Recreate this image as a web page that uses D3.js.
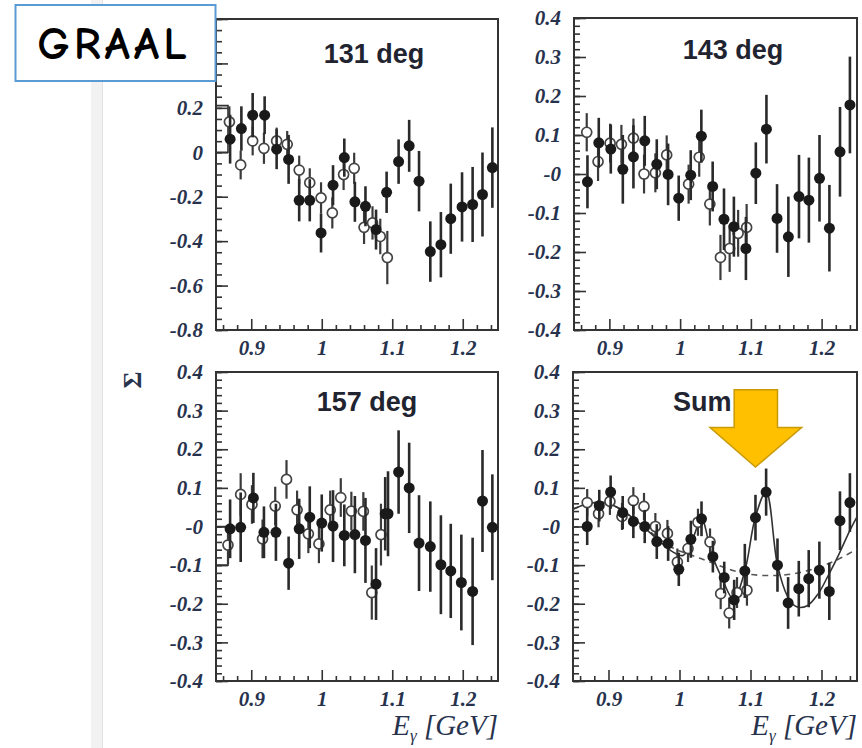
<!DOCTYPE html>
<html>
<head>
<meta charset="utf-8">
<script src="https://cdn.jsdelivr.net/npm/d3@7"></script>
<style>
html, body { margin: 0; padding: 0; background: #fff; }
svg { display: block; }
</style>
</head>
<body>
<svg width="862" height="748"></svg>
<script>
// data: [E_gamma (GeV), Sigma, error]
var filled131 = [
  [0.870, 0.059, 0.11], [0.886, 0.107, 0.10], [0.902, 0.167, 0.10], [0.919, 0.167, 0.085],
  [0.936, 0.014, 0.09], [0.953, -0.032, 0.11], [0.968, -0.216, 0.095], [0.983, -0.216, 0.095],
  [0.999, -0.363, 0.088], [1.016, -0.148, 0.09], [1.032, -0.024, 0.086], [1.047, -0.223, 0.09],
  [1.062, -0.243, 0.09], [1.077, -0.348, 0.09], [1.092, -0.180, 0.093], [1.109, -0.042, 0.10],
  [1.124, 0.029, 0.117], [1.138, -0.130, 0.136], [1.154, -0.447, 0.136], [1.169, -0.416, 0.147],
  [1.183, -0.299, 0.158], [1.199, -0.246, 0.156], [1.214, -0.235, 0.169], [1.228, -0.190, 0.189],
  [1.242, -0.069, 0.181]
];
var open131 = [
  [0.869, 0.137, 0.07], [0.885, -0.057, 0.065], [0.902, 0.051, 0.065], [0.918, 0.018, 0.07],
  [0.936, 0.051, 0.06], [0.951, 0.036, 0.06], [0.968, -0.080, 0.065], [0.983, -0.137, 0.065],
  [0.999, -0.205, 0.07], [1.015, -0.273, 0.07], [1.031, -0.100, 0.07], [1.046, -0.072, 0.07],
  [1.060, -0.338, 0.075], [1.072, -0.318, 0.075], [1.083, -0.379, 0.08], [1.093, -0.474, 0.12]
];
var filled143 = [
  [0.869, -0.020, 0.068], [0.885, 0.080, 0.064], [0.902, 0.064, 0.063], [0.919, 0.012, 0.088],
  [0.934, 0.044, 0.081], [0.950, 0.085, 0.064], [0.967, 0.025, 0.064], [0.983, -0.001, 0.079],
  [0.998, -0.062, 0.058], [1.015, -0.003, 0.064], [1.030, 0.097, 0.068], [1.046, -0.032, 0.064],
  [1.062, -0.116, 0.079], [1.076, -0.135, 0.077], [1.093, -0.191, 0.081], [1.107, 0.002, 0.079],
  [1.122, 0.115, 0.088], [1.137, -0.114, 0.088], [1.153, -0.161, 0.103], [1.168, -0.058, 0.107],
  [1.182, -0.067, 0.109], [1.197, -0.011, 0.111], [1.211, -0.139, 0.111], [1.226, 0.057, 0.115],
  [1.240, 0.177, 0.124]
];
var open143 = [
  [0.868, 0.107, 0.049], [0.884, 0.032, 0.05], [0.901, 0.079, 0.05], [0.917, 0.076, 0.05],
  [0.934, 0.092, 0.05], [0.949, 0.000, 0.05], [0.965, 0.003, 0.05], [0.981, 0.049, 0.05],
  [1.012, -0.026, 0.05], [1.027, 0.043, 0.05], [1.042, -0.077, 0.055], [1.057, -0.214, 0.058],
  [1.070, -0.191, 0.06], [1.082, -0.152, 0.06], [1.094, -0.137, 0.06]
];
var filled157 = [
  [0.870, -0.006, 0.076], [0.885, -0.002, 0.09], [0.903, 0.074, 0.065], [0.918, -0.015, 0.067],
  [0.935, -0.015, 0.074], [0.953, -0.095, 0.069], [0.968, -0.006, 0.078], [0.983, 0.024, 0.08],
  [1.000, 0.009, 0.074], [1.016, 0.001, 0.093], [1.032, -0.023, 0.08], [1.047, -0.021, 0.10],
  [1.062, -0.036, 0.11], [1.077, -0.149, 0.093], [1.090, 0.033, 0.095], [1.094, 0.033, 0.11],
  [1.109, 0.141, 0.108], [1.124, 0.100, 0.117], [1.138, -0.043, 0.124], [1.154, -0.052, 0.117],
  [1.169, -0.099, 0.128], [1.183, -0.115, 0.122], [1.198, -0.145, 0.124], [1.214, -0.168, 0.139],
  [1.228, 0.066, 0.132], [1.242, -0.002, 0.137]
];
var open157 = [
  [0.867, -0.048, 0.05], [0.885, 0.083, 0.055], [0.901, 0.057, 0.05], [0.916, -0.032, 0.05],
  [0.934, 0.053, 0.05], [0.950, 0.122, 0.05], [0.965, 0.043, 0.05], [0.981, -0.019, 0.05],
  [0.996, -0.045, 0.05], [1.012, 0.043, 0.05], [1.027, 0.075, 0.05], [1.042, 0.040, 0.05],
  [1.059, 0.039, 0.05], [1.071, -0.171, 0.07], [1.084, -0.021, 0.08]
];
var filledSum = [
  [0.870, 0.000, 0.048], [0.887, 0.054, 0.041], [0.903, 0.089, 0.043], [0.920, 0.036, 0.043],
  [0.935, 0.013, 0.043], [0.951, 0.000, 0.043], [0.968, -0.039, 0.045], [0.984, -0.044, 0.045],
  [0.999, -0.111, 0.043], [1.016, -0.033, 0.048], [1.031, 0.020, 0.045], [1.047, -0.078, 0.041],
  [1.063, -0.132, 0.041], [1.077, -0.190, 0.052], [1.092, -0.115, 0.07], [1.107, 0.023, 0.059],
  [1.122, 0.089, 0.061], [1.138, -0.100, 0.069], [1.153, -0.198, 0.067], [1.168, -0.161, 0.072],
  [1.182, -0.135, 0.074], [1.197, -0.113, 0.074], [1.211, -0.168, 0.074], [1.226, 0.015, 0.076],
  [1.240, 0.062, 0.076]
];
var openSum = [
  [0.870, 0.062, 0.035], [0.886, 0.033, 0.035], [0.902, 0.065, 0.035], [0.919, 0.026, 0.035],
  [0.935, 0.067, 0.035], [0.950, 0.052, 0.035], [0.966, 0.000, 0.035], [0.983, -0.018, 0.035],
  [0.997, -0.092, 0.035], [1.012, -0.057, 0.035], [1.026, 0.011, 0.035], [1.043, -0.040, 0.035],
  [1.058, -0.174, 0.04], [1.070, -0.224, 0.04], [1.081, -0.171, 0.04], [1.095, -0.165, 0.04]
];

// model curves on the "Sum" panel
var solidSumE = [0.85, 0.87, 0.89, 0.91, 0.93, 0.95, 0.97, 0.99, 1.005, 1.018, 1.031, 1.045, 1.06,
                 1.076, 1.092, 1.107, 1.122, 1.138, 1.152, 1.165, 1.18, 1.195, 1.21, 1.225, 1.24, 1.25];
var solidSumS = [0.045, 0.058, 0.063, 0.052, 0.028, -0.002, -0.035, -0.065, -0.075, -0.035, 0.02, -0.07, -0.135,
                 -0.188, -0.115, 0.025, 0.09, -0.10, -0.18, -0.208, -0.205, -0.175, -0.125, -0.07, -0.01, 0.025];
var dashSumE = [0.85, 0.87, 0.89, 0.91, 0.93, 0.95, 0.97, 0.99, 1.01, 1.03, 1.05, 1.07, 1.09, 1.11,
                1.13, 1.15, 1.17, 1.19, 1.21, 1.23, 1.25];
var dashSumS = [0.045, 0.058, 0.062, 0.052, 0.028, 0.0, -0.03, -0.055, -0.07, -0.083, -0.097, -0.111, -0.121, -0.126,
                -0.127, -0.125, -0.119, -0.109, -0.096, -0.079, -0.058];

// little histogram stubs at the left edge: [E0, E1, S0, S1]
var stub131 = [0.85, 0.867, 0.0, 0.21];
var stub157 = [0.85, 0.867, 0.0, -0.1];

var xTickLabels = [0.9, 1.0, 1.1, 1.2];

var svg = d3.select("svg");
var W = 862, H = 748;

var labelColor = "#27324d";
var serif = "'Liberation Serif', 'Times New Roman', serif";

svg.append("rect").attr("width", W).attr("height", H).attr("fill", "#fff");

// faint slide edge on the left
svg.append("rect").attr("x", 91).attr("y", 0).attr("width", 11).attr("height", H).attr("fill", "#f2f2f2");
svg.append("line").attr("x1", 102.5).attr("x2", 102.5).attr("y1", 0).attr("y2", H)
   .attr("stroke", "#e3e3e3").attr("stroke-width", 1);

var panels = [
  {title: "131 deg", left: 216, right: 498, top: 19, bottom: 330, yDomain: [-0.8, 0.6],
   major: 0.2, minor: 0.05, zero: "0", labelMax: 0.2, filled: filled131, open: open131, stub: stub131,
   tx: 158, ty: 44, anchor: "middle"},
  {title: "143 deg", left: 574, right: 857, top: 18, bottom: 330, yDomain: [-0.4, 0.4],
   major: 0.1, minor: 0.02, zero: "-0", labelMax: 0.4, filled: filled143, open: open143, stub: null,
   tx: 159, ty: 41, anchor: "middle"},
  {title: "157 deg", left: 216, right: 498, top: 372, bottom: 681, yDomain: [-0.4, 0.4],
   major: 0.1, minor: 0.02, zero: "-0", labelMax: 0.4, filled: filled157, open: open157, stub: stub157,
   tx: 151, ty: 39, anchor: "middle", eLabel: true},
  {title: "Sum", left: 573, right: 857, top: 372, bottom: 681, yDomain: [-0.4, 0.4],
   major: 0.1, minor: 0.02, zero: "-0", labelMax: 0.4, filled: filledSum, open: openSum, stub: null,
   tx: 100, ty: 39, anchor: "start", eLabel: true, curves: true}
];

function steps(lo, hi, step) {
  var n = Math.round((hi - lo) / step);
  return d3.range(n + 1).map(function(i) { return +(lo + i * step).toFixed(4); });
}

function styleLabels(a) {
  a.select(".domain").remove();
  a.selectAll("line").attr("stroke", "#333").attr("stroke-width", 1.6);
  a.selectAll("text").attr("fill", labelColor).attr("font-family", null)
    .style("font-family", serif).style("font-size", "21px")
    .style("font-weight", "bold").style("font-style", "italic");
}

panels.forEach(function(p, i) {
  var x = d3.scaleLinear().domain([0.85, 1.25]).range([p.left, p.right]);
  var y = d3.scaleLinear().domain(p.yDomain).range([p.bottom, p.top]);
  var g = svg.append("g").attr("class", "panel");

  var clipId = "clip" + i;
  svg.append("clipPath").attr("id", clipId).append("rect")
     .attr("x", p.left).attr("y", p.top)
     .attr("width", p.right - p.left).attr("height", p.bottom - p.top);

  // x axis: major + minor ticks pointing inside
  var xMinor = steps(0.86, 1.24, 0.02).filter(function(v) { return Math.abs(v * 10 - Math.round(v * 10)) > 1e-6; });
  g.append("g").attr("transform", "translate(0," + p.bottom + ")")
    .call(d3.axisBottom(x).tickValues(xMinor).tickSize(-5).tickFormat(""))
    .call(function(a) { a.select(".domain").remove(); a.selectAll("line").attr("stroke", "#333").attr("stroke-width", 1.6); });
  g.append("g").attr("transform", "translate(0," + p.bottom + ")")
    .call(d3.axisBottom(x).tickValues(xTickLabels).tickSize(-11).tickPadding(10)
          .tickFormat(function(d) { return d === 1 ? "1" : d3.format(".1f")(d); }))
    .call(styleLabels);

  // y axis
  var yMajor = steps(p.yDomain[0], p.yDomain[1], p.major);
  var yMinor = steps(p.yDomain[0], p.yDomain[1], p.minor);
  g.append("g").attr("transform", "translate(" + p.left + ",0)")
    .call(d3.axisLeft(y).tickValues(yMinor).tickSize(-6).tickFormat(""))
    .call(function(a) { a.select(".domain").remove(); a.selectAll("line").attr("stroke", "#333").attr("stroke-width", 1.6); });
  g.append("g").attr("transform", "translate(" + p.left + ",0)")
    .call(d3.axisLeft(y).tickValues(yMajor).tickSize(-12).tickPadding(13)
          .tickFormat(function(d) {
            if (d > p.labelMax + 1e-9) return "";   // hidden behind the GRAAL tag
            return Math.abs(d) < 1e-9 ? p.zero : String(+d.toFixed(1));
          }))
    .call(styleLabels);

  // frame
  g.append("rect").attr("x", p.left).attr("y", p.top)
    .attr("width", p.right - p.left).attr("height", p.bottom - p.top)
    .attr("fill", "none").attr("stroke", "#333").attr("stroke-width", 2);

  var plot = g.append("g").attr("clip-path", "url(#" + clipId + ")");

  if (p.stub) {
    var s = p.stub;
    plot.append("path")
      .attr("d", "M" + x(s[0]) + "," + y(s[2]) + "H" + x(s[1]) + "V" + y(s[3]) + "H" + x(s[0]))
      .attr("fill", "none").attr("stroke", "#333").attr("stroke-width", 1.6);
  }

  if (p.curves) {
    var solid = solidSumE.map(function(e, k) { return [e, solidSumS[k]]; });
    var dash = dashSumE.map(function(e, k) { return [e, dashSumS[k]]; });
    var line = d3.line().x(function(d) { return x(d[0]); }).y(function(d) { return y(d[1]); })
                 .curve(d3.curveCatmullRom.alpha(0.5));
    plot.append("path").attr("d", line(dash)).attr("fill", "none")
      .attr("stroke", "#555").attr("stroke-width", 1.6).attr("stroke-dasharray", "6,5");
    plot.append("path").attr("d", line(solid)).attr("fill", "none")
      .attr("stroke", "#333").attr("stroke-width", 1.6);
  }

  // open points (other data set)
  plot.append("g").selectAll("line").data(p.open).enter().append("line")
    .attr("x1", function(d) { return x(d[0]); }).attr("x2", function(d) { return x(d[0]); })
    .attr("y1", function(d) { return y(d[1] - d[2]); }).attr("y2", function(d) { return y(d[1] + d[2]); })
    .attr("stroke", "#3a3a3a").attr("stroke-width", 2.2);
  plot.append("g").selectAll("circle").data(p.open).enter().append("circle")
    .attr("cx", function(d) { return x(d[0]); }).attr("cy", function(d) { return y(d[1]); })
    .attr("r", 5).attr("fill", "#fff").attr("stroke", "#444").attr("stroke-width", 1.7);

  // filled points
  plot.append("g").selectAll("line").data(p.filled).enter().append("line")
    .attr("x1", function(d) { return x(d[0]); }).attr("x2", function(d) { return x(d[0]); })
    .attr("y1", function(d) { return y(d[1] - d[2]); }).attr("y2", function(d) { return y(d[1] + d[2]); })
    .attr("stroke", "#2a2a2a").attr("stroke-width", 2.6);
  plot.append("g").selectAll("circle").data(p.filled).enter().append("circle")
    .attr("cx", function(d) { return x(d[0]); }).attr("cy", function(d) { return y(d[1]); })
    .attr("r", 5.5).attr("fill", "#1a1a1a");

  // panel title
  g.append("text").attr("x", p.left + p.tx).attr("y", p.top + p.ty)
    .attr("text-anchor", p.anchor)
    .style("font-family", "'Liberation Sans', Arial, sans-serif")
    .style("font-size", "27px").style("font-weight", "bold").attr("fill", "#1f2430")
    .text(p.title);

  if (p.eLabel) {
    var t = g.append("text").attr("x", p.right).attr("y", p.bottom + 54)
      .attr("text-anchor", "end").attr("fill", labelColor)
      .style("font-family", serif).style("font-size", "29px").style("font-style", "italic");
    t.append("tspan").text("E");
    t.append("tspan").attr("dy", 6).style("font-size", "17px").text("\u03b3");
    t.append("tspan").attr("dy", -6).text(" [GeV]");
  }

  if (p.curves) {
    // yellow arrow pointing at the narrow peak
    var arrow = [[1.077, 0.354], [1.138, 0.354], [1.138, 0.256], [1.172, 0.256],
                 [1.107, 0.154], [1.043, 0.256], [1.077, 0.256]];
    svg.append("polygon")
      .attr("points", arrow.map(function(a) { return x(a[0]) + "," + y(a[1]); }).join(" "))
      .attr("fill", "#ffc000").attr("stroke", "#c99a06").attr("stroke-width", 1.5);
  }
});

// Sigma axis label
svg.append("text").attr("transform", "translate(141,380) rotate(-90)")
  .attr("text-anchor", "middle").attr("fill", labelColor)
  .style("font-family", serif).style("font-size", "26px").style("font-weight", "bold")
  .text("\u03a3");

// GRAAL tag box
svg.append("rect").attr("x", 15.5).attr("y", 5).attr("width", 200).attr("height", 76)
  .attr("fill", "#fff").attr("stroke", "#5b9bd5").attr("stroke-width", 2);
svg.append("text").attr("x", 114).attr("y", 59).attr("text-anchor", "middle")
  .style("font-family", "'Comic Sans MS', 'Comic Neue', 'Noto Sans', sans-serif")
  .style("font-size", "46px").style("font-weight", "600").style("letter-spacing", "4px").attr("fill", "#000")
  .text("GRAAL");
</script>
</body>
</html>
